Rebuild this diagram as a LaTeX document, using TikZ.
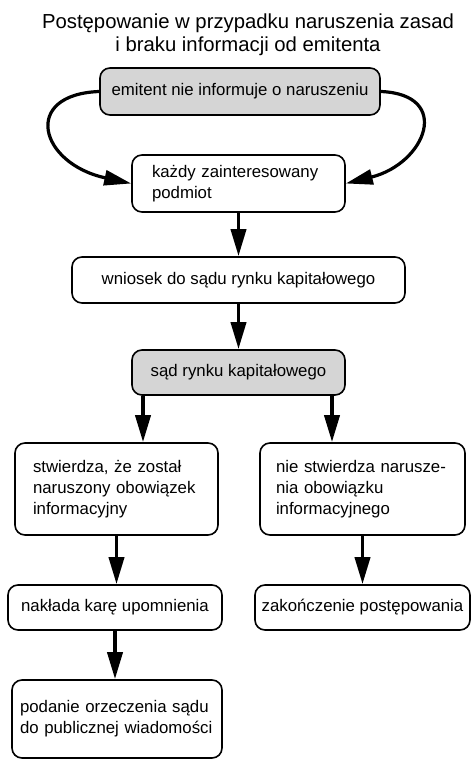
\documentclass[tikz,border=0pt]{standalone}
\usepackage{fontspec}
\setmainfont{Liberation Sans}
\usetikzlibrary{arrows.meta}
\begin{document}
\begin{tikzpicture}[x=1pt, y=-1pt]
    % Define styles
    \tikzset{
        flowbox/.style={draw, line width=1.6pt, rounded corners=10pt, align=center, font=\fontsize{16.8pt}{21pt}\selectfont},
        courtbox/.style={flowbox, fill=gray!33},
        textbox/.style={flowbox, align=left, inner xsep=18pt},
        thickarrow/.style={-{Triangle[length=27pt, width=15pt]}, line width=3.8pt},
        curvearrow/.style={thickarrow, line width=3.2pt}
    }
    \useasboundingbox (0,0) rectangle (471,759);

    % Title
    \node[align=center, font=\fontsize{20.3pt}{23.5pt}\selectfont] (title) at (248,35) {Postępowanie w przypadku naruszenia zasad\\ i braku informacji od emitenta};

    % Start of the procedure
    \node[courtbox, minimum width=280pt, minimum height=47pt] (emit) at (240,91.5) {emitent nie informuje o naruszeniu};
    \node[textbox, text width=173pt, inner xsep=20pt, minimum height=57pt] (zaint) at (238.5,183.5) {każdy zainteresowany\\podmiot};

    % Curved arrows from the issuer
    \draw[curvearrow] (emit.west) .. controls +(-78,3) and +(-92,-20) .. (zaint.west);
    \draw[curvearrow] (emit.east) .. controls +(72,3) and +(80,-20) .. (zaint.east);

    % Motion and court
    \node[flowbox, minimum width=333pt, minimum height=46pt] (wniosek) at (238.5,280) {wniosek do sądu rynku kapitałowego};
    \node[courtbox, minimum width=213pt, minimum height=45pt] (sad) at (238.5,372.5) {sąd rynku kapitałowego};
    \draw[thickarrow] (zaint) -- (wniosek);
    \draw[thickarrow] (wniosek) -- (sad);

    % Two outcomes
    \node[textbox, text width=167pt, minimum height=92pt] (stw) at (116.5,489) {stwierdza, że został\\naruszony obowiązek\\informacyjny};
    \node[textbox, text width=173pt, inner xsep=16pt, minimum height=92pt] (niestw) at (362.5,489) {nie stwierdza narusze-\\nia obowiązku\\informacyjnego};
    \coordinate (lsplit) at ([xshift=-95.5pt]sad.south);
    \coordinate (rsplit) at ([xshift=93.5pt]sad.south);
    \draw[thickarrow] (lsplit) -- (lsplit |- stw.north);
    \draw[thickarrow] (rsplit) -- (rsplit |- niestw.north);

    % Consequences
    \node[flowbox, minimum width=214pt, minimum height=45pt] (kara) at (115,607.5) {nakłada karę upomnienia};
    \node[flowbox, minimum width=215pt, minimum height=45pt] (koniec) at (362.5,607.5) {zakończenie postępowania};
    \node[textbox, text width=194pt, inner xsep=8pt, minimum height=78pt] (orzecz) at (117,719) {podanie orzeczenia sądu\\do publicznej wiadomości};
    \draw[thickarrow] (stw.south) -- (stw.south |- kara.north);
    \draw[thickarrow] (niestw) -- (koniec);
    \draw[thickarrow] (kara.south) -- (kara.south |- orzecz.north);

\end{tikzpicture}
\end{document}
